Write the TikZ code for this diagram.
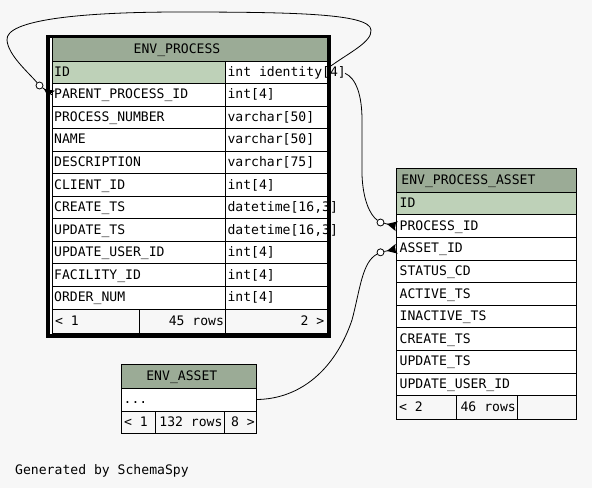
\documentclass[tikz,border=0pt]{standalone}
\usepackage{fontspec}
\setmonofont{DejaVu Sans Mono}
\usetikzlibrary{calc}

\definecolor{bgc}{HTML}{F7F7F7}
\definecolor{headc}{HTML}{9BAB96}
\definecolor{keyc}{HTML}{BED1B8}

\tikzset{
  cellbox/.style={draw=black, line width=1pt, fill=white, inner sep=0pt, outer sep=0pt, anchor=north west},
  headbox/.style={cellbox, fill=headc},
  keybox/.style={cellbox, fill=keyc},
  footbox/.style={cellbox, fill=bgc},
  lbl/.style={font=\ttfamily\fontsize{13.1}{15}\selectfont, inner sep=0pt, anchor=base west},
  lblr/.style={lbl, anchor=base east},
  lblc/.style={lbl, anchor=base},
  wire/.style={draw=black, line width=0.8pt},
  odot/.style={circle, draw=black, fill=white, line width=0.8pt, minimum size=7pt, inner sep=0pt},
}

% one row of ENV_PROCESS: name, index, style of first cell, column, type
\newcommand\procrow[5]{%
  \node[#3, minimum width=173.5pt, minimum height=22.55pt] (#1a) at (52,{61+#2*22.545}) {};
  \node[cellbox, minimum width=101.5pt, minimum height=22.55pt] (#1b) at (225.5,{61+#2*22.545}) {};
  \node[lbl] at ([xshift=2pt,yshift=-4pt]#1a.west) {#4};
  \node[lbl] at ([xshift=1.8pt,yshift=-4pt]#1b.west) {#5};
}
% one row of ENV_PROCESS_ASSET: name, index, style, column
\newcommand\assetrow[4]{%
  \node[#3, minimum width=179.3pt, minimum height=22.6pt] (#1) at (396.7,{192.3+#2*22.6}) {};
  \node[lbl] at ([xshift=2.8pt,yshift=-4pt]#1.west) {#4};
}
% optional-many end: open circle, then crow's foot touching the table
\newcommand\crowfoot[2]{%
  \draw[wire] (#1) -- (#2);
  \fill ($(#2)!10pt!(#1)$) -- ($(#2)!5pt!90:(#1)$) -- ($(#2)!2pt!(#1)$) -- ($(#2)!5pt!-90:(#1)$) -- cycle;
}

\begin{document}
\begin{tikzpicture}[x=1pt, y=-1pt]
  \fill[bgc] (0,0) rectangle (592,488);
  \useasboundingbox (0,0) rectangle (592,488);

  % ---------- ENV_PROCESS (bold frame) ----------
  \fill[black] (46,35) rectangle (330.7,338.3);
  \fill[white] (50,37.7) rectangle (327.3,334.3);
  \node[headbox, minimum width=275pt, minimum height=23.5pt] (phead) at (52,37.5) {};
  \node[lblc] at ([xshift=-12.5pt,yshift=-4pt]phead.center) {ENV\_PROCESS};

  \procrow{pid}{0}{keybox}{ID}{int identity[4]}
  \procrow{pparent}{1}{cellbox}{PARENT\_PROCESS\_ID}{int[4]}
  \procrow{pnum}{2}{cellbox}{PROCESS\_NUMBER}{varchar[50]}
  \procrow{pname}{3}{cellbox}{NAME}{varchar[50]}
  \procrow{pdesc}{4}{cellbox}{DESCRIPTION}{varchar[75]}
  \procrow{pclient}{5}{cellbox}{CLIENT\_ID}{int[4]}
  \procrow{pcreate}{6}{cellbox}{CREATE\_TS}{datetime[16,3]}
  \procrow{pupdate}{7}{cellbox}{UPDATE\_TS}{datetime[16,3]}
  \procrow{puser}{8}{cellbox}{UPDATE\_USER\_ID}{int[4]}
  \procrow{pfac}{9}{cellbox}{FACILITY\_ID}{int[4]}
  \procrow{porder}{10}{cellbox}{ORDER\_NUM}{int[4]}

  \node[footbox, minimum width=87pt, minimum height=24pt] (pf1) at (52,309) {};
  \node[footbox, minimum width=86.5pt, minimum height=24pt] (pf2) at (139,309) {};
  \node[footbox, minimum width=101.5pt, minimum height=24pt] (pf3) at (225.5,309) {};
  \node[lbl] at ([xshift=2.8pt,yshift=-4pt]pf1.west) {< 1};
  \node[lblr] at ([xshift=-1.3pt,yshift=-4pt]pf2.east) {45 rows};
  \node[lblr] at ([xshift=-2.5pt,yshift=-4pt]pf3.east) {2 >};

  % ---------- ENV_PROCESS_ASSET ----------
  \node[headbox, minimum width=179.3pt, minimum height=24pt] (ahead) at (396.7,168.3) {};
  \node[lbl] at ([xshift=4.5pt,yshift=-4pt]ahead.west) {ENV\_PROCESS\_ASSET};
  \assetrow{aid}{0}{keybox}{ID}
  \assetrow{aproc}{1}{cellbox}{PROCESS\_ID}
  \assetrow{aasset}{2}{cellbox}{ASSET\_ID}
  \assetrow{astatus}{3}{cellbox}{STATUS\_CD}
  \assetrow{aactive}{4}{cellbox}{ACTIVE\_TS}
  \assetrow{ainactive}{5}{cellbox}{INACTIVE\_TS}
  \assetrow{acreate}{6}{cellbox}{CREATE\_TS}
  \assetrow{aupdate}{7}{cellbox}{UPDATE\_TS}
  \assetrow{auser}{8}{cellbox}{UPDATE\_USER\_ID}
  \node[footbox, minimum width=60pt, minimum height=23.6pt] (af1) at (396.7,395.7) {};
  \node[footbox, minimum width=61pt, minimum height=23.6pt] (af2) at (456.7,395.7) {};
  \node[footbox, minimum width=58.3pt, minimum height=23.6pt] (af3) at (517.7,395.7) {};
  \node[lbl] at ([xshift=2.3pt,yshift=-4pt]af1.west) {< 2};
  \node[lblr] at ([xshift=-1.7pt,yshift=-4pt]af2.east) {46 rows};

  % ---------- ENV_ASSET ----------
  \node[headbox, minimum width=135.7pt, minimum height=23.7pt] (shead) at (121,364.3) {};
  \node[lblc] at ([xshift=-7pt,yshift=-4.8pt]shead.center) {ENV\_ASSET};
  \node[cellbox, minimum width=135.7pt, minimum height=23pt] (sdots) at (121,388) {};
  \node[lbl] at ([xshift=2.5pt,yshift=-3.5pt]sdots.west) {...};
  \node[footbox, minimum width=34.7pt, minimum height=22.3pt] (sf1) at (121,411) {};
  \node[footbox, minimum width=68.6pt, minimum height=22.3pt] (sf2) at (155.7,411) {};
  \node[footbox, minimum width=32.4pt, minimum height=22.3pt] (sf3) at (224.3,411) {};
  \node[lbl] at ([xshift=2.8pt,yshift=-4pt]sf1.west) {< 1};
  \node[lblr] at ([xshift=-1.6pt,yshift=-4pt]sf2.east) {132 rows};
  \node[lblr] at ([xshift=-1.7pt,yshift=-4pt]sf3.east) {8 >};

  % ---------- relationships ----------
  \node[odot] (o1) at (39.5,85.5) {};
  \node[odot] (o2) at (380.5,222.5) {};
  \node[odot] (o3) at (380.5,252.3) {};

  \coordinate (loopstart) at ([xshift=2pt,yshift=5pt]pidb.east);
  \coordinate (procstart) at ([xshift=18pt,yshift=-1pt]pidb.east);

  % ENV_PROCESS.ID -> ENV_PROCESS.PARENT_PROCESS_ID
  \draw[wire] (loopstart) .. controls (350,52) and (372,42) .. (371,30)
              .. controls (370,14) and (300,12) .. (180,12)
              .. controls (80,12) and (5,20) .. (7,40)
              .. controls (8,55) and (28,72) .. (o1);
  \crowfoot{o1}{pparenta.west}

  % ENV_PROCESS.ID -> ENV_PROCESS_ASSET.PROCESS_ID
  \draw[wire] (procstart) .. controls (356,78) and (362,95) .. (362,120)
              -- (362,175) .. controls (363,200) and (370,215) .. (o2);
  \crowfoot{o2}{aproc.west}

  % ENV_ASSET -> ENV_PROCESS_ASSET.ASSET_ID
  \draw[wire] (sdots.east) .. controls (300,399) and (335,370) .. (352,320)
              .. controls (360,290) and (362,262) .. (o3);
  \crowfoot{o3}{aasset.west}

  \node[lbl] (gen) at (15,474) {Generated by SchemaSpy};
\end{tikzpicture}
\end{document}
